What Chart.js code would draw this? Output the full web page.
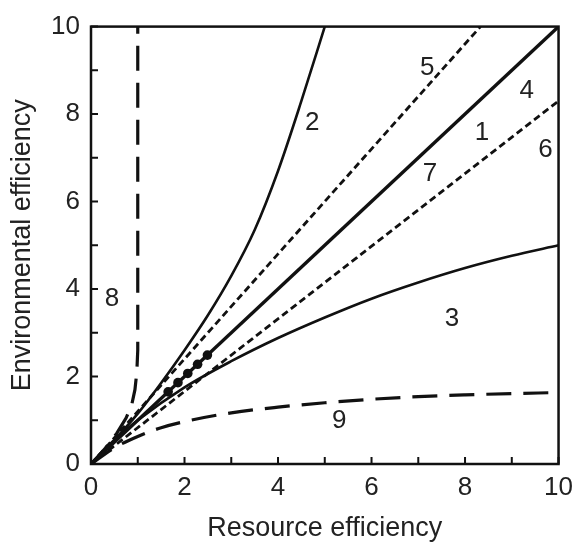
<!DOCTYPE html>
<html>
<head>
<meta charset="utf-8">
<script src="https://cdn.jsdelivr.net/npm/chart.js@4/dist/chart.umd.min.js"></script>
<style>
  html, body { margin: 0; padding: 0; background: #fff; }
  #wrap { width: 581px; height: 545px; }
</style>
</head>
<body>
<div id="wrap"><canvas id="effChart" width="581" height="545"></canvas></div>
<script>
// values (x = resource efficiency, y = environmental efficiency)
const line1 = [[0, 0], [10, 10]];
const curve2 = [[0, 0], [0.5, 0.55], [1, 1.15], [1.5, 1.85], [2, 2.6], [2.5, 3.4], [3, 4.3],
                [3.5, 5.35], [4, 6.7], [4.5, 8.3], [5, 10]];
const curve3 = [[0, 0], [0.5, 0.55], [1, 1.0], [2, 1.75], [3, 2.35], [4, 2.88], [5, 3.35],
                [6, 3.78], [7, 4.15], [8, 4.48], [9, 4.76], [10, 5.0]];
const line5 = [[0, 0], [8.33, 10]];
const line6 = [[0, 0], [10, 8.3]];
const curve8 = [[0, 0], [0.3, 0.35], [0.55, 0.7], [0.75, 1.05], [0.87, 1.35], [0.94, 1.7],
                [0.98, 2.1], [1, 2.6], [1, 10]];
const curve9 = [[0, 0], [0.5, 0.37], [1, 0.63], [1.5, 0.83], [2, 0.97], [3, 1.17], [4, 1.3],
                [5, 1.4], [6, 1.48], [7, 1.54], [8, 1.58], [9, 1.61], [9.85, 1.63]];
const beads7 = [[1.65, 1.65], [1.86, 1.86], [2.07, 2.07], [2.28, 2.28], [2.49, 2.49]];

// curve numbers and where they sit (data units)
const curveLabels = [
  { text: "1", x: 8.36, y: 7.58 },
  { text: "2", x: 4.73, y: 7.81 },
  { text: "3", x: 7.72, y: 3.32 },
  { text: "4", x: 9.32, y: 8.53 },
  { text: "5", x: 7.19, y: 9.05 },
  { text: "6", x: 9.72, y: 7.18 },
  { text: "7", x: 7.25, y: 6.64 },
  { text: "8", x: 0.45, y: 3.77 },
  { text: "9", x: 5.31, y: 0.99 }
];

const axisMin = 0, axisMax = 10;
const ink = "#111";
const fontFamily = "'Liberation Sans', Arial, Helvetica, sans-serif";

const toXY = arr => arr.map(p => ({ x: p[0], y: p[1] }));

function curve(data, width, dash, extra = {}) {
  return Object.assign({
    data: toXY(data),
    showLine: true,
    borderColor: ink,
    borderWidth: width,
    borderDash: dash,
    pointRadius: 0,
    fill: false,
    cubicInterpolationMode: "monotone"
  }, extra);
}

// box round the plot + inward tick marks + curve numbers
const framePlugin = {
  id: "frame",
  afterDraw(chart) {
    const { ctx, chartArea: a, scales } = chart;
    ctx.save();
    ctx.strokeStyle = ink;
    ctx.lineWidth = 2.5;
    ctx.strokeRect(a.left, a.top, a.right - a.left, a.bottom - a.top);

    ctx.lineWidth = 2;
    ctx.beginPath();
    scales.x.ticks.forEach(t => {
      const px = scales.x.getPixelForValue(t.value);
      ctx.moveTo(px, a.bottom);
      ctx.lineTo(px, a.bottom - 7);
    });
    scales.y.ticks.forEach(t => {
      const py = scales.y.getPixelForValue(t.value);
      ctx.moveTo(a.left, py);
      ctx.lineTo(a.left + 7, py);
    });
    ctx.stroke();

    ctx.fillStyle = "#222";
    ctx.font = "26px " + fontFamily;
    ctx.textAlign = "center";
    ctx.textBaseline = "middle";
    curveLabels.forEach(l => {
      ctx.fillText(l.text, scales.x.getPixelForValue(l.x), scales.y.getPixelForValue(l.y));
    });
    ctx.restore();
  }
};

const ctx = document.getElementById("effChart").getContext("2d");
new Chart(ctx, {
  type: "scatter",
  data: {
    datasets: [
      curve(line1, 3.4, []),
      curve(curve2, 2.6, []),
      curve(curve3, 2.6, []),
      curve(line5, 2.8, [7, 4]),
      curve(line6, 2.8, [7, 4]),
      curve(curve8, 3.2, [25, 12], { cubicInterpolationMode: "default", tension: 0 }),
      curve(curve9, 3.2, [25, 12]),
      {
        data: toXY(beads7),
        showLine: false,
        pointRadius: 4.8,
        pointBackgroundColor: ink,
        pointBorderWidth: 0
      }
    ]
  },
  options: {
    responsive: false,
    animation: false,
    layout: { padding: { top: 21, right: 21, left: 0, bottom: 0 } },
    plugins: {
      legend: { display: false },
      tooltip: { enabled: false }
    },
    scales: {
      x: {
        type: "linear",
        min: axisMin,
        max: axisMax,
        afterFit: s => { s.height = 81; },
        grid: { display: false, drawTicks: false },
        border: { display: false },
        ticks: {
          stepSize: 1,
          padding: 8,
          color: "#222",
          font: { family: fontFamily, size: 26 },
          callback: v => (v % 2 === 0 ? v : "")
        },
        title: {
          display: true,
          text: "Resource efficiency",
          color: "#222",
          font: { family: fontFamily, size: 27 },
          padding: { top: 0, bottom: 0 }
        }
      },
      y: {
        type: "linear",
        min: axisMin,
        max: axisMax,
        afterFit: s => { s.width = 91; },
        grid: { display: false, drawTicks: false },
        border: { display: false },
        ticks: {
          stepSize: 1,
          padding: 11,
          color: "#222",
          font: { family: fontFamily, size: 26 },
          callback: v => (v % 2 === 0 ? v : "")
        },
        title: {
          display: true,
          text: "Environmental efficiency",
          color: "#222",
          font: { family: fontFamily, size: 27 },
          padding: { top: 6, bottom: 0 }
        }
      }
    }
  },
  plugins: [framePlugin]
});
</script>
</body>
</html>
